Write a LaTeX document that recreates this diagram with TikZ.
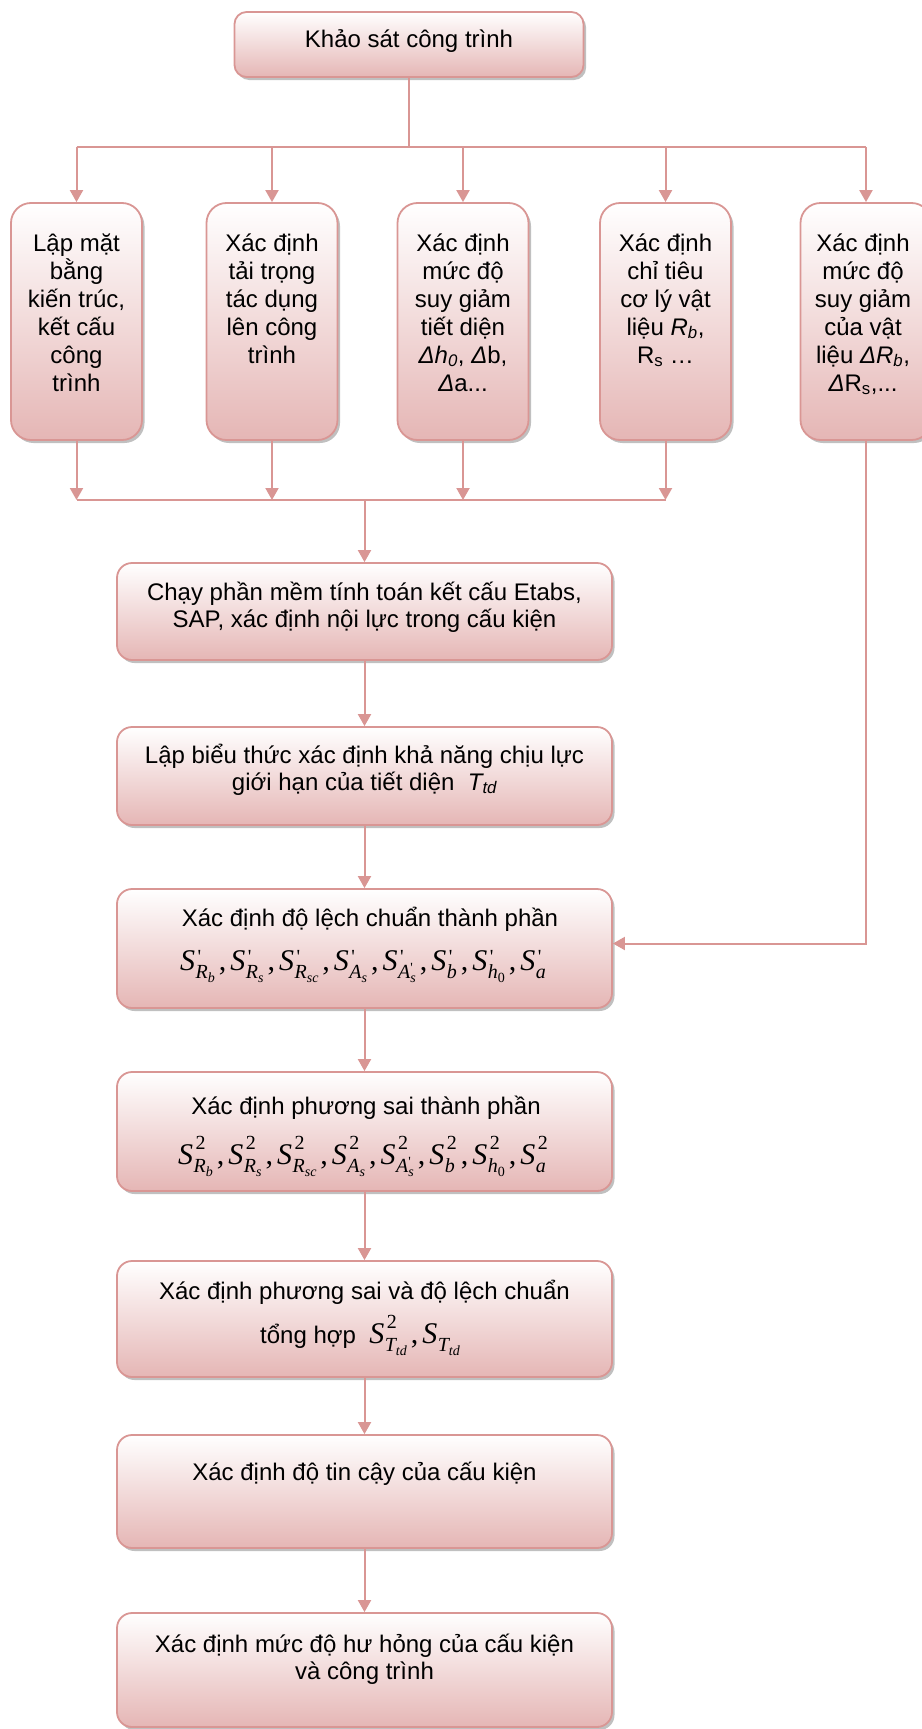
\documentclass[tikz,border=0pt]{standalone}
\usepackage{fontspec}
\setmainfont{Liberation Sans}
\newfontfamily\tms{Liberation Serif}
\usetikzlibrary{arrows.meta,shadows}
\definecolor{bord}{HTML}{D99694}
\definecolor{fillb}{HTML}{E5B6B5}
\definecolor{arrc}{HTML}{D99694}
\newsavebox\mysupbox
\newsavebox\mysubbox
\newcommand\mainS{{\tms\itshape S}}
\newcommand\scr[1]{{\fontsize{20}{20}\selectfont\tms #1}}
\newcommand\sscr[1]{{\fontsize{14}{14}\selectfont\tms #1}}
% #1 raise of superscript, #2 superscript, #3 subscript
\newcommand\SU[3]{\mainS\sbox\mysupbox{\hspace{2.5pt}\raisebox{#1}{\scr{#2}}}%
  \sbox\mysubbox{\hspace{0.5pt}\raisebox{-8pt}{\scr{#3}}}%
  \ifdim\wd\mysupbox>\wd\mysubbox\rlap{\usebox\mysubbox}\usebox\mysupbox\else\rlap{\usebox\mysupbox}\usebox\mysubbox\fi}
\newcommand\SO[1]{\mainS\hspace{0.5pt}\raisebox{-8pt}{\scr{#1}}}
\newcommand\SPr[1]{\SU{7pt}{'}{#1}}
\newcommand\Sq[1]{\SU{15pt}{2}{#1}}
\newcommand\cm{\hspace{4pt}{\tms ,}\hspace{4pt}}
\newcommand\Rb{{\itshape R}\raisebox{-4pt}{\sscr{\itshape b}}}
\newcommand\Rs{{\itshape R}\raisebox{-4pt}{\sscr{\itshape s}}}
\newcommand\Rsc{{\itshape R}\raisebox{-4pt}{\sscr{\itshape sc}}}
\newcommand\As{{\itshape A}\raisebox{-4pt}{\sscr{\itshape s}}}
\newcommand\Aps{{\itshape A}\rlap{\raisebox{6pt}{\sscr{'}}}\raisebox{-4pt}{\sscr{\itshape s}}}
\newcommand\hz{{\itshape h}\raisebox{-4pt}{\sscr{0}}}
\newcommand\Ttd{{\itshape T}\raisebox{-4pt}{\sscr{\itshape td}}}
\tikzset{
  boxbase/.style={draw=bord, line width=1.8pt, top color=white, bottom color=fillb,
    drop shadow={shadow xshift=2.5pt, shadow yshift=-3pt, fill=black!45, opacity=0.55},
    inner sep=0pt},
  tallbox/.style={boxbase, rounded corners=20pt, minimum width=131pt, minimum height=237pt},
  widebox/.style={boxbase, rounded corners=15pt, minimum width=495pt},
  topbox/.style={boxbase, rounded corners=12pt, minimum width=349pt, minimum height=65pt},
  ttext/.style={anchor=base, inner sep=0pt, font=\fontsize{24}{28}\selectfont},
  wtext/.style={anchor=base, inner sep=0pt, font=\fontsize{24}{27}\selectfont},
  mtext/.style={anchor=base, inner sep=0pt, font=\fontsize{30}{34}\selectfont},
  ln/.style={draw=arrc, line width=2pt},
  arr/.style={ln, -{Triangle[width=13pt,length=12pt]}},
}
\begin{document}
\begin{tikzpicture}[x=1pt,y=-1pt]
\useasboundingbox (0,0) rectangle (921,1729);
% top
\node[topbox] (top) at (409,44.5) {};
\node[wtext] (ttop) at (409,47) {Khảo sát công trình};
% five boxes
\node[tallbox] (b1) at (76.5,321.5) {};
\node[tallbox] (b2) at (272,321.5) {};
\node[tallbox] (b3) at (463,321.5) {};
\node[tallbox] (b4) at (665.5,321.5) {};
\node[tallbox] (b5) at (866,321.5) {};
\node[ttext] (t1) at (76.5,251) {\parbox[t]{140pt}{\centering Lập mặt\\bằng\\kiến trúc,\\kết cấu\\công\\trình}};
\node[ttext] (t2) at (272,251) {\parbox[t]{140pt}{\centering Xác định\\tải trọng\\tác dụng\\lên công\\trình}};
\node[ttext] (t3) at (463,251) {\parbox[t]{140pt}{\centering Xác định\\mức độ\\suy giảm\\tiết diện\\\textit{Δh\textsubscript{0}}, \textit{Δ}b,\\\textit{Δ}a...}};
\node[ttext] (t4) at (665.5,251) {\parbox[t]{140pt}{\centering Xác định\\chỉ tiêu\\cơ lý vật\\liệu \textit{R\textsubscript{b}},\\R\textsubscript{s} …}};
\node[ttext] (t5) at (863,251) {\parbox[t]{140pt}{\centering Xác định\\mức độ\\suy giảm\\của vật\\liệu \textit{ΔR\textsubscript{b}},\\\textit{Δ}R\textsubscript{s},...}};
% lower boxes
\node[widebox, minimum height=97pt] (c1) at (364.5,611.5) {};
\node[widebox, minimum height=98pt] (c2) at (364.5,776) {};
\node[widebox, minimum height=119pt] (c3) at (364.5,948.5) {};
\node[widebox, minimum height=119pt] (c4) at (364.5,1131.5) {};
\node[widebox, minimum height=116pt] (c5) at (364.5,1319) {};
\node[widebox, minimum height=113pt] (c6) at (364.5,1491.5) {};
\node[widebox, minimum height=114pt] (c7) at (364.5,1670) {};
\node[wtext] (d1) at (364.5,600) {\parbox[t]{480pt}{\centering Chạy phần mềm tính toán kết cấu Etabs,\\SAP, xác định nội lực trong cấu kiện}};
\node[wtext] (d2) at (364.5,763) {\parbox[t]{480pt}{\centering Lập biểu thức xác định khả năng chịu lực\\giới hạn của tiết diện \ \textit{T\textsubscript{td}}}};
\node[wtext] (d3) at (370,926) {Xác định độ lệch chuẩn thành phần};
\node[mtext] (m3) at (363,970) {\SPr{\Rb}\cm\SPr{\Rs}\cm\SPr{\Rsc}\cm\SPr{\As}\cm\SPr{\Aps}\cm\SPr{{\itshape b}}\cm\SPr{\hz}\cm\SPr{{\itshape a}}};
\node[wtext] (d4) at (366,1114) {Xác định phương sai thành phần};
\node[mtext] (m4) at (363,1164) {\Sq{\Rb}\cm\Sq{\Rs}\cm\Sq{\Rsc}\cm\Sq{\As}\cm\Sq{\Aps}\cm\Sq{{\itshape b}}\cm\Sq{\hz}\cm\Sq{{\itshape a}}};
\node[wtext] (d5) at (364.5,1299) {Xác định phương sai và độ lệch chuẩn};
\node[wtext] (m5) at (360,1343) {tổng hợp \ {\fontsize{30}{34}\selectfont\Sq{\Ttd}\cm\SO{\Ttd}}};
\node[wtext] (d6) at (364.5,1480) {Xác định độ tin cậy của cấu kiện};
\node[wtext] (d7) at (364.5,1652) {\parbox[t]{480pt}{\centering Xác định mức độ hư hỏng của cấu kiện\\và công trình}};
% connectors
\coordinate (jt) at (409,147);
\coordinate (jb) at (364.5,500);
\draw[ln] (top.south) -- (jt);
\draw[ln] (b1.north |- jt) -- (b5.north |- jt);
\foreach \b in {b1,b2,b3,b4,b5} \draw[arr] (\b.north |- jt) -- (\b.north);
\foreach \b in {b1,b2,b3,b4} \draw[arr] (\b.south) -- (\b.south |- jb);
\draw[ln] (b1.south |- jb) -- (b4.south |- jb);
\draw[arr] (jb) -- (c1.north);
\draw[arr] (c1.south) -- (c2.north);
\draw[arr] (c2.south) -- (c3.north);
\draw[arr] (c3.south) -- (c4.north);
\draw[arr] (c4.south) -- (c5.north);
\draw[arr] (c5.south) -- (c6.north);
\draw[arr] (c6.south) -- (c7.north);
\draw[arr] (b5.south) |- ([yshift=5pt]c3.east);
\end{tikzpicture}
\end{document}
